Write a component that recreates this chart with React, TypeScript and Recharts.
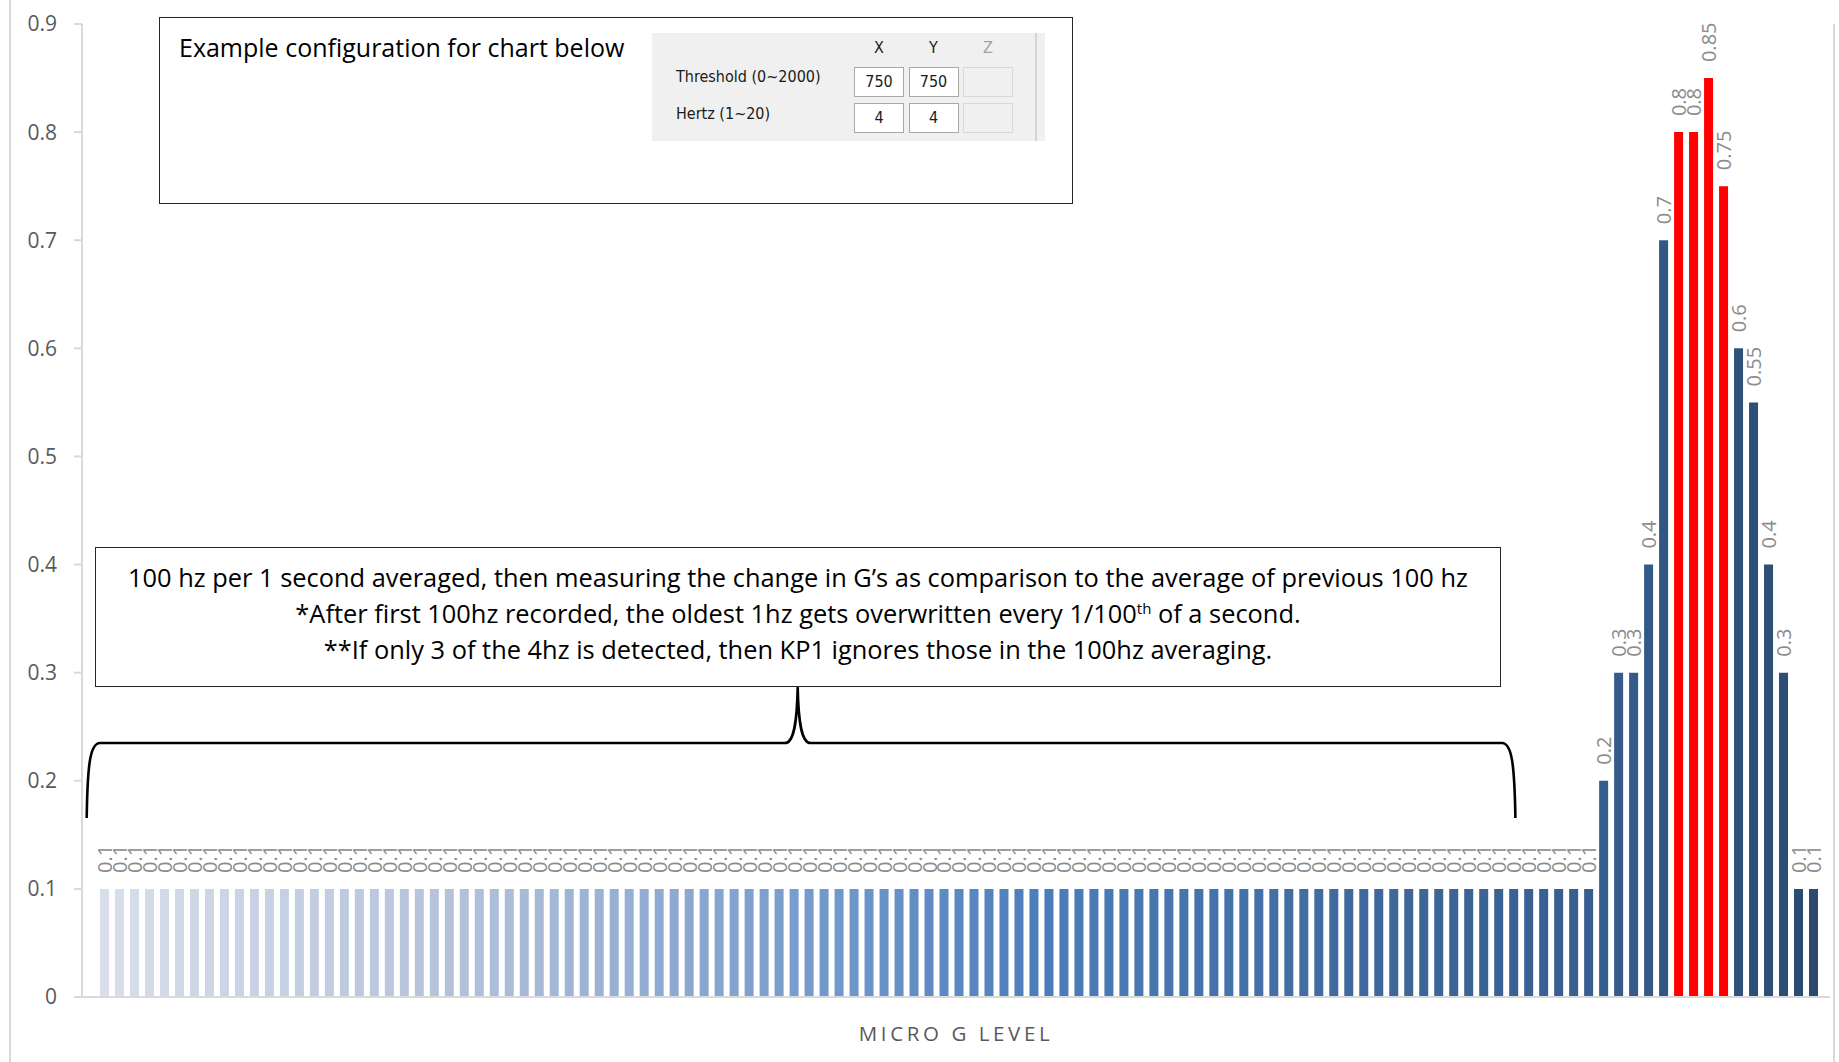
import React from 'react';
import { BarChart, Bar, XAxis, YAxis, Cell, LabelList } from 'recharts';

// ---- Data ----
const values: number[] = [
  // 100 readings of the rolling 100 hz window
  0.1, 0.1, 0.1, 0.1, 0.1, 0.1, 0.1, 0.1, 0.1, 0.1,
  0.1, 0.1, 0.1, 0.1, 0.1, 0.1, 0.1, 0.1, 0.1, 0.1,
  0.1, 0.1, 0.1, 0.1, 0.1, 0.1, 0.1, 0.1, 0.1, 0.1,
  0.1, 0.1, 0.1, 0.1, 0.1, 0.1, 0.1, 0.1, 0.1, 0.1,
  0.1, 0.1, 0.1, 0.1, 0.1, 0.1, 0.1, 0.1, 0.1, 0.1,
  0.1, 0.1, 0.1, 0.1, 0.1, 0.1, 0.1, 0.1, 0.1, 0.1,
  0.1, 0.1, 0.1, 0.1, 0.1, 0.1, 0.1, 0.1, 0.1, 0.1,
  0.1, 0.1, 0.1, 0.1, 0.1, 0.1, 0.1, 0.1, 0.1, 0.1,
  0.1, 0.1, 0.1, 0.1, 0.1, 0.1, 0.1, 0.1, 0.1, 0.1,
  0.1, 0.1, 0.1, 0.1, 0.1, 0.1, 0.1, 0.1, 0.1, 0.1,
  // the event
  0.2, 0.3, 0.3, 0.4, 0.7, 0.8, 0.8, 0.85, 0.75, 0.6, 0.55, 0.4, 0.3, 0.1, 0.1,
];
const categories: string[] = values.map((_, i) => String(i + 1));
const highlighted: number[] = [105, 106, 107, 108]; // bars over threshold (red)
const yTicks: number[] = [0, 0.1, 0.2, 0.3, 0.4, 0.5, 0.6, 0.7, 0.8, 0.9];
const axisTitle = 'MICRO G LEVEL';
const topNote = 'Example configuration for chart below';
const noteLines: string[] = [
  '100 hz per 1 second averaged, then measuring the change in G\u2019s as comparison to the average of previous 100 hz',
  '*After first 100hz recorded, the oldest 1hz gets overwritten every 1/100',
  '**If only 3 of the 4hz is detected, then KP1 ignores those in the 100hz averaging.',
];
const configCols: string[] = ['X', 'Y', 'Z'];
const configRows: { label: string; x: string; y: string }[] = [
  { label: 'Threshold (0~2000)', x: '750', y: '750' },
  { label: 'Hertz (1~20)', x: '4', y: '4' },
];

// ---- Styling helpers ----
const rampStops: [number, [number, number, number]][] = [
  [0, [216, 223, 234]],
  [25, [176, 191, 217]],
  [50, [110, 150, 201]],
  [62, [76, 126, 187]],
  [87, [62, 102, 153]],
  [99, [54, 94, 143]],
  [114, [43, 74, 112]],
];
function rampColor(i: number): string {
  for (let k = 0; k < rampStops.length - 1; k++) {
    const [a, ca] = rampStops[k];
    const [b, cb] = rampStops[k + 1];
    if (i >= a && i <= b) {
      const t = (i - a) / (b - a);
      const c = ca.map((v, j) => Math.round(v + (cb[j] - v) * t));
      return '#' + c.map((v) => v.toString(16).padStart(2, '0')).join('');
    }
  }
  return '#2b4a70';
}

const data = categories.map((c, i) => ({ cat: c, v: values[i] }));
const FONT = "'Segoe UI', 'Open Sans', sans-serif";
const UIFONT = "'DejaVu Sans Condensed', 'Liberation Sans Narrow', sans-serif";

const RotLabel = (props: any) => {
  const { x, y, width, value } = props;
  const cx = x + width / 2 + 7.5;
  const ty = y - 16;
  return (
    <text
      x={cx}
      y={ty}
      transform={`rotate(-90 ${cx} ${ty})`}
      textAnchor="start"
      fill="#8c8c8c"
      fontSize={20}
      fontFamily={FONT}
    >
      {String(value)}
    </text>
  );
};

export default function App() {
  return (
    <div style={{ position: 'absolute', left: 0, top: 0, width: 1839, height: 1062, background: '#fff', overflow: 'hidden', fontFamily: FONT }}>
      {/* chart area borders */}
      <div style={{ position: 'absolute', left: 9, top: 0, width: 2, height: 1062, background: '#d9d9d9' }} />
      <div style={{ position: 'absolute', left: 1833, top: 24, width: 2, height: 1038, background: '#d9d9d9' }} />

      <div style={{ position: 'absolute', left: 0, top: 0 }}>
        <BarChart width={1839} height={1062} data={data} margin={{ top: 24, right: 9, bottom: 0, left: 0 }}>
          <XAxis
            dataKey="cat"
            height={65}
            tick={false}
            tickLine={false}
            axisLine={{ stroke: '#d9d9d9', strokeWidth: 2 }}
            padding={{ left: 15, right: 9 }}
            interval={0}
          />
          <YAxis
            width={82}
            domain={[0, 0.9]}
            ticks={yTicks}
            interval={0}
            tickSize={8}
            tickMargin={17}
            axisLine={{ stroke: '#d9d9d9', strokeWidth: 2 }}
            tickLine={{ stroke: '#d9d9d9', strokeWidth: 2 }}
            tick={{ fill: '#595959', fontSize: 21, fontFamily: FONT }}
            tickFormatter={(v: number) => String(v)}
          />
          <Bar dataKey="v" barSize={9} isAnimationActive={false}>
            {data.map((_, i) => (
              <Cell key={i} fill={highlighted.includes(i) ? '#ff0000' : rampColor(i)} />
            ))}
            <LabelList dataKey="v" content={RotLabel} />
          </Bar>
        </BarChart>
      </div>

      {/* axis title */}
      <div style={{ position: 'absolute', left: 82, width: 1748, top: 1019, textAlign: 'center', fontSize: 20.5, letterSpacing: 3.6, color: '#595959' }}>
        {axisTitle}
      </div>

      {/* top annotation box */}
      <div style={{ position: 'absolute', left: 159, top: 17, width: 914, height: 187, border: '1.5px solid #262626', boxSizing: 'border-box', background: '#fff' }}>
        <div style={{ position: 'absolute', left: 19, top: 12, fontSize: 25, color: '#000', whiteSpace: 'nowrap' }}>{topNote}</div>
        <div style={{ position: 'absolute', left: 492, top: 15, width: 393, height: 108, background: '#f0f0f0' }}>
          <div style={{ position: 'absolute', left: 383, top: 0, width: 2, height: 108, background: '#d4d4d4' }} />
          {configCols.map((c, k) => (
            <div key={c} style={{ position: 'absolute', left: 202 + k * 54.5, top: 5, width: 50, textAlign: 'center', fontSize: 16, fontFamily: UIFONT, color: k === 2 ? '#a0a0a0' : '#222' }}>
              {c}
            </div>
          ))}
          {configRows.map((r, ri) => (
            <React.Fragment key={r.label}>
              <div style={{ position: 'absolute', left: 24, top: 34 + ri * 37, fontSize: 16, fontFamily: UIFONT, color: '#1a1a1a', whiteSpace: 'nowrap' }}>
                {r.label}
              </div>
              {[r.x, r.y, ''].map((v, k) => (
                <div key={k} style={{ position: 'absolute', left: 202 + k * 54.5, top: 34 + ri * 36, width: 50, height: 30, boxSizing: 'border-box', border: k === 2 ? '1px solid #d8d8d8' : '1px solid #a8a8a8', background: k === 2 ? '#f0f0f0' : '#fff', textAlign: 'center', lineHeight: '28px', fontSize: 16, fontFamily: UIFONT, color: '#1a1a1a' }}>
                  {v}
                </div>
              ))}
            </React.Fragment>
          ))}
        </div>
      </div>

      {/* bottom annotation box */}
      <div style={{ position: 'absolute', left: 95, top: 547, width: 1406, height: 140, border: '1.5px solid #262626', boxSizing: 'border-box', background: '#fff', textAlign: 'center', color: '#000', fontSize: 25.4, lineHeight: '36px', paddingTop: 11 }}>
        <div style={{ whiteSpace: 'nowrap' }}>{noteLines[0]}</div>
        <div style={{ whiteSpace: 'nowrap' }}>
          {noteLines[1]}
          <sup style={{ fontSize: 15, lineHeight: 0 }}>th</sup> of a second.
        </div>
        <div style={{ whiteSpace: 'nowrap' }}>{noteLines[2]}</div>
      </div>

      {/* curly brace */}
      <svg width={1839} height={1062} style={{ position: 'absolute', left: 0, top: 0, pointerEvents: 'none' }}>
        <path
          d="M 86.7 818 C 87.5 765, 90 743, 100 743 L 785 743 C 794 743, 797 722, 797.7 687 C 798.4 722, 801.5 743, 810.5 743 L 1502 743 C 1512 743, 1514.5 765, 1515.4 818"
          fill="none"
          stroke="#000"
          strokeWidth={2.6}
        />
      </svg>
    </div>
  );
}
